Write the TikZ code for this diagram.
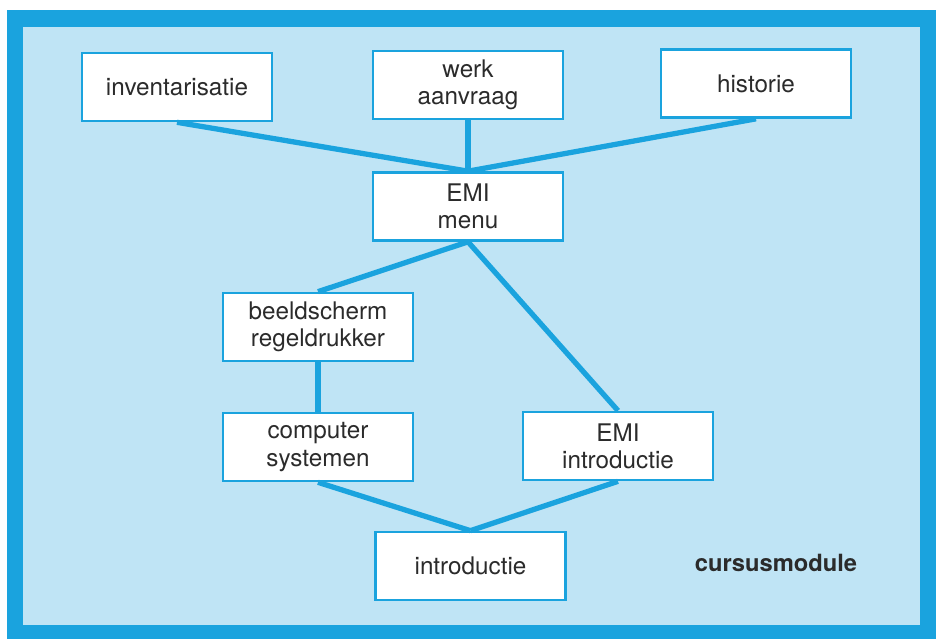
\documentclass[tikz,border=0pt]{standalone}
\usepackage{fontspec}
\setmainfont{TeX Gyre Heros}
\definecolor{framebl}{HTML}{1AA3DE}
\definecolor{panelbl}{HTML}{BFE4F5}
\definecolor{txtgray}{HTML}{2B2B2B}
\tikzset{
  modbox/.style={draw=framebl, line width=1.5pt, fill=white, text=txtgray,
    minimum width=38mm, minimum height=13.6mm, align=center,
    font=\fontsize{13.8}{15.5}\selectfont},
  link/.style={draw=framebl, line width=3pt}
}

\begin{document}
\begin{tikzpicture}[x=0.2mm, y=-0.2mm]
  \useasboundingbox (0,0) rectangle (938,639);
  \fill[framebl] (7,10) rectangle (936,639);
  \fill[panelbl] (23,27) rectangle (920,625);

  \coordinate (pinv)   at (177, 87);
  \coordinate (pwerk)  at (468, 85);
  \coordinate (phist)  at (756, 83.5);
  \coordinate (pmenu)  at (468, 206.5);
  \coordinate (pbeeld) at (318, 327);
  \coordinate (pcomp)  at (318, 447);
  \coordinate (pemi)   at (618, 446);
  \coordinate (pintro) at (470.5, 566);

  \node[modbox] (inv)   at (pinv)   {inventarisatie};
  \node[modbox] (werk)  at (pwerk)  {werk\\aanvraag};
  \node[modbox] (hist)  at (phist)  {historie};
  \node[modbox] (menu)  at (pmenu)  {EMI\\menu};
  \node[modbox] (beeld) at (pbeeld) {beeldscherm\\regeldrukker};
  \node[modbox] (comp)  at (pcomp)  {computer\\systemen};
  \node[modbox] (emi)   at (pemi)   {EMI\\introductie};
  \node[modbox] (intro) at (pintro) {introductie};

  \path[link] (inv.south) -- (menu.north);
  \path[link] (werk.south) -- (menu.north);
  \path[link] (hist.south) -- (menu.north);
  \path[link] (menu.south) -- (beeld.north);
  \path[link] (menu.south) -- (emi.north);
  \path[link] (beeld.south) -- (comp.north);
  \path[link] (comp.south) -- (intro.north);
  \path[link] (emi.south) -- (intro.north);

  \node[text=txtgray, font=\fontsize{13.5}{15.5}\selectfont\bfseries] (label) at (776, 563) {cursusmodule};
\end{tikzpicture}
\end{document}
